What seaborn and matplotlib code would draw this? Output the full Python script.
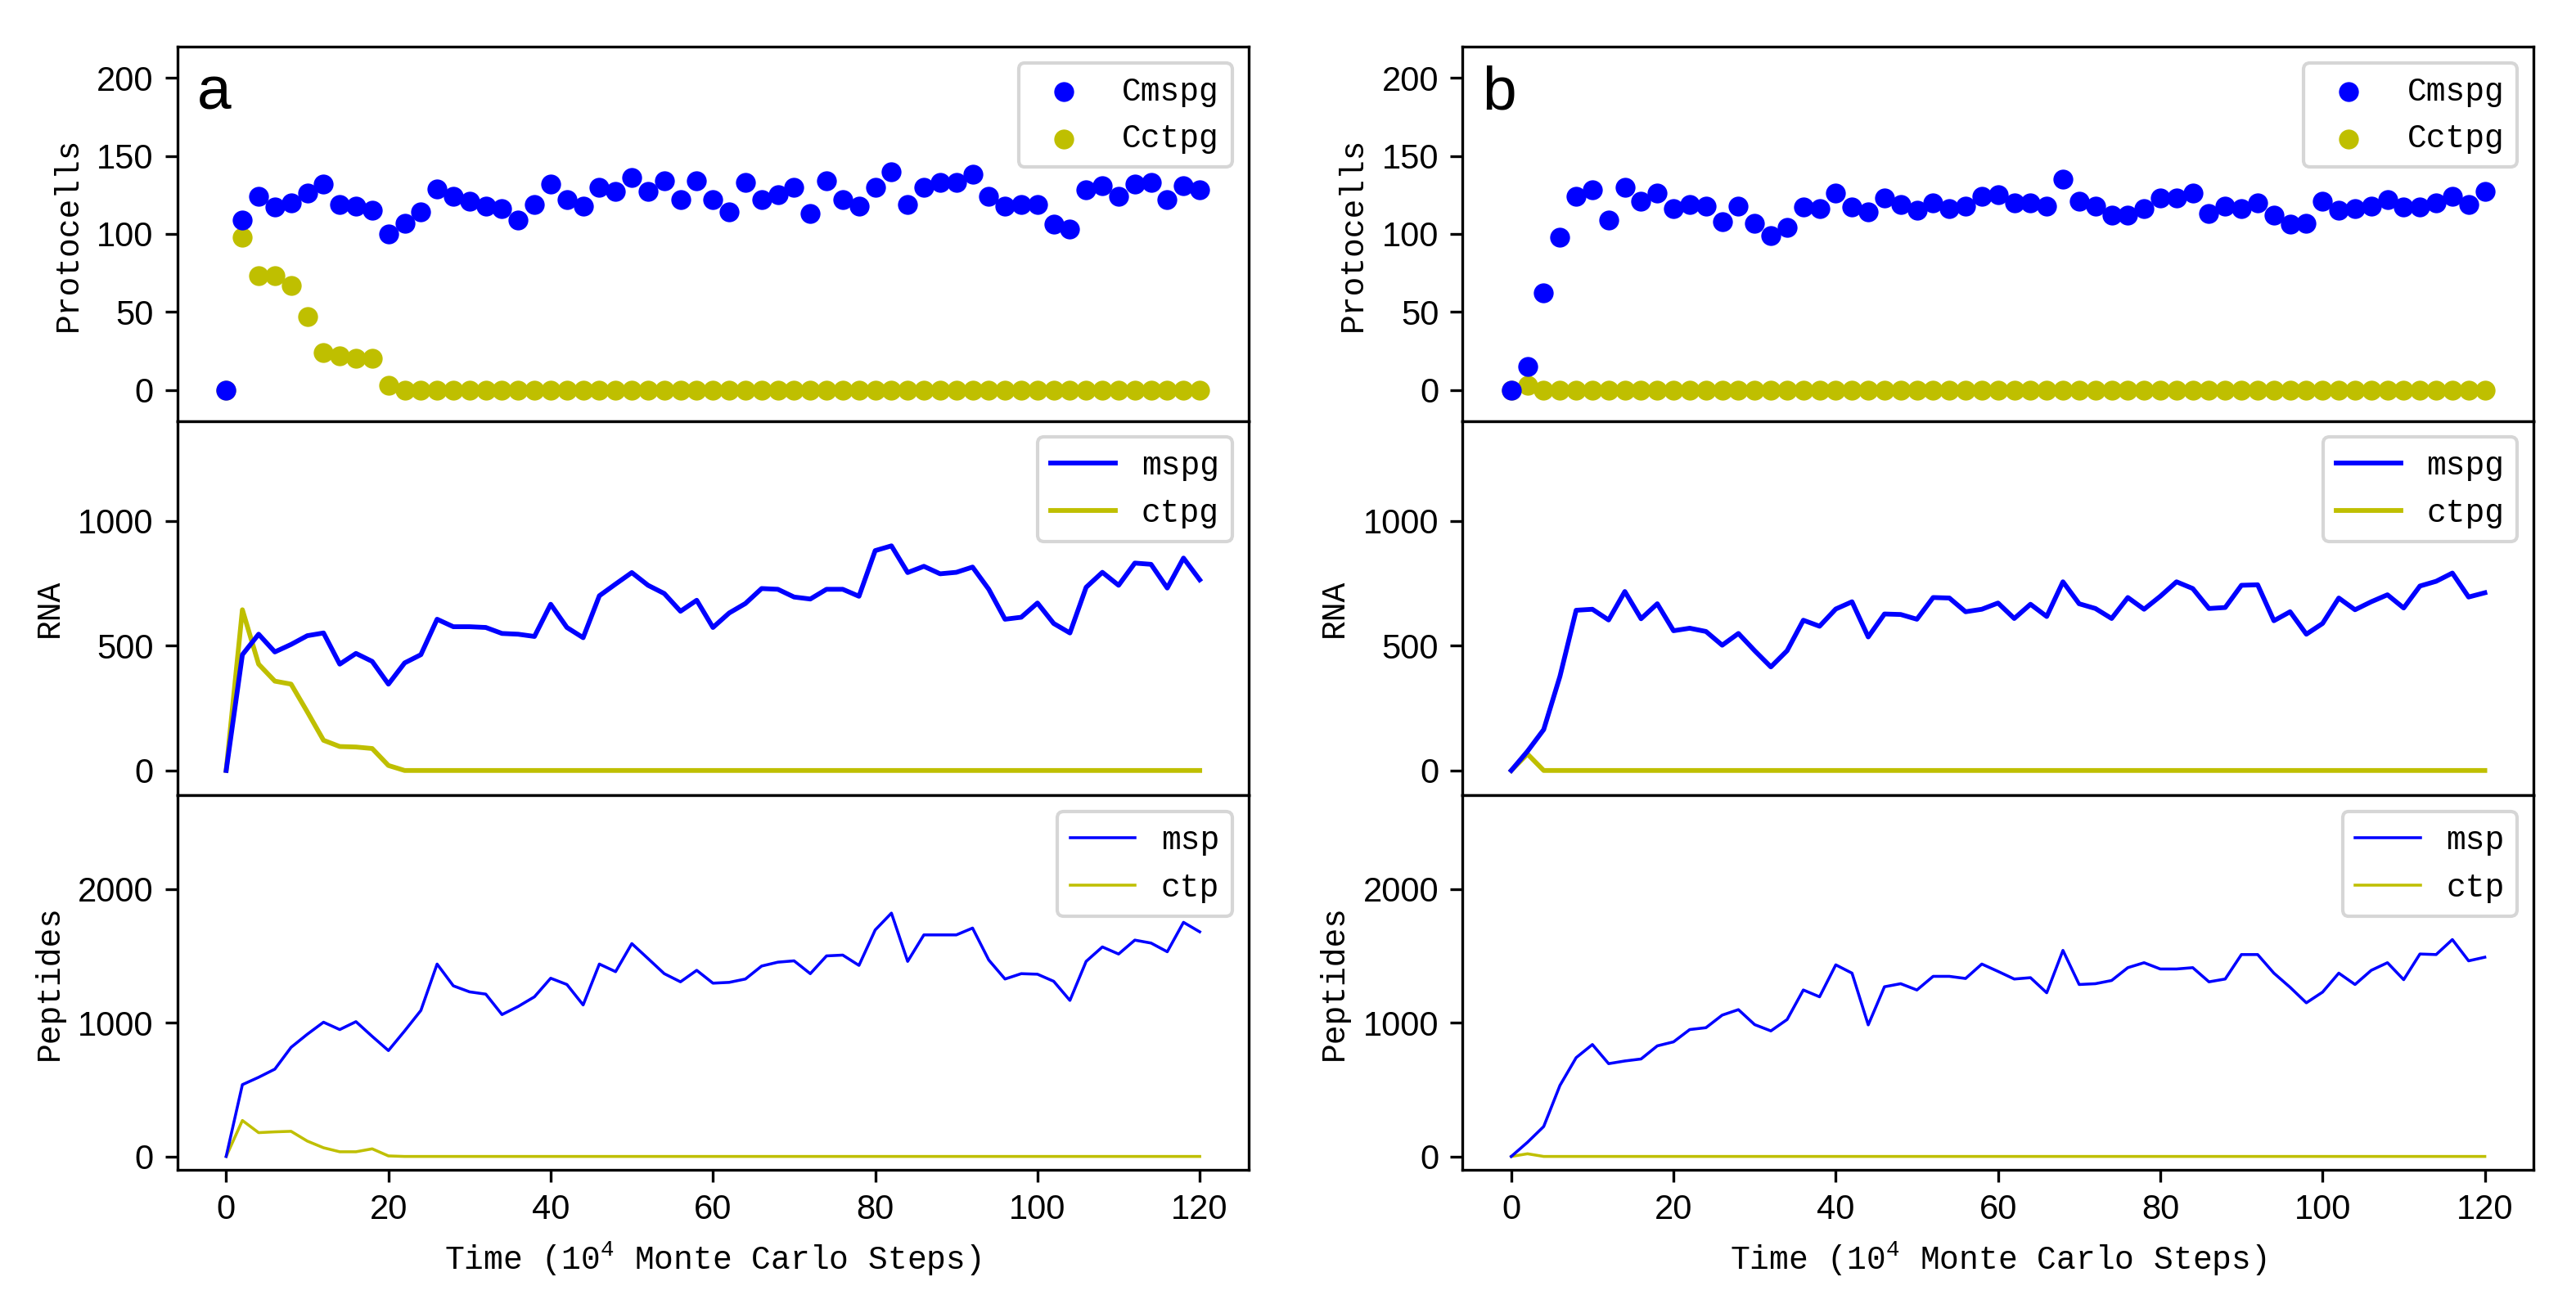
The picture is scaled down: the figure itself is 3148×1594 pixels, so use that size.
import matplotlib
matplotlib.use("Agg")
import matplotlib.pyplot as plt
import seaborn as sns

# time axis, in units of 10^4 Monte Carlo steps
time = [0, 2, 4, 6, 8, 10, 12, 14, 16, 18, 20, 22, 24, 26, 28, 30, 32, 34, 36, 38,
        40, 42, 44, 46, 48, 50, 52, 54, 56, 58, 60, 62, 64, 66, 68, 70, 72, 74, 76, 78,
        80, 82, 84, 86, 88, 90, 92, 94, 96, 98, 100, 102, 104, 106, 108, 110, 112, 114, 116, 118, 120]

# ---- panel a ----
a_Cmspg = [0, 109, 124, 117, 120, 126, 132, 119, 118, 115, 100, 107, 114, 129, 124, 121, 118, 116, 109, 119,
           132, 122, 118, 130, 127, 136, 127, 134, 122, 134, 122, 114, 133, 122, 125, 130, 113, 134, 122, 118,
           130, 140, 119, 130, 133, 133, 138, 124, 118, 119, 119, 106, 103, 128, 131, 124, 132, 133, 122, 131, 128]
a_Cctpg = [0, 98, 73, 73, 67, 47, 24, 22, 20, 20, 3, 0, 0, 0, 0, 0, 0, 0, 0, 0,
           0, 0, 0, 0, 0, 0, 0, 0, 0, 0, 0, 0, 0, 0, 0, 0, 0, 0, 0, 0,
           0, 0, 0, 0, 0, 0, 0, 0, 0, 0, 0, 0, 0, 0, 0, 0, 0, 0, 0, 0, 0]
a_mspg = [0, 464, 546, 475, 505, 540, 551, 426, 469, 437, 346, 431, 464, 606, 576, 576, 573, 549, 546, 537,
          666, 573, 532, 700, 747, 793, 742, 709, 638, 682, 573, 631, 669, 729, 726, 695, 687, 726, 726, 698,
          881, 900, 793, 818, 788, 794, 815, 726, 606, 614, 671, 589, 551, 734, 794, 742, 831, 826, 731, 851, 764]
a_ctpg = [0, 644, 426, 358, 346, 235, 121, 96, 94, 88, 20, 0, 0, 0, 0, 0, 0, 0, 0, 0,
          0, 0, 0, 0, 0, 0, 0, 0, 0, 0, 0, 0, 0, 0, 0, 0, 0, 0, 0, 0,
          0, 0, 0, 0, 0, 0, 0, 0, 0, 0, 0, 0, 0, 0, 0, 0, 0, 0, 0, 0, 0]
a_msp = [0, 537, 592, 653, 816, 914, 1004, 949, 1008, 898, 792, 939, 1092, 1439, 1276, 1231, 1214, 1061, 1122, 1194,
         1333, 1286, 1133, 1439, 1382, 1592, 1480, 1367, 1306, 1392, 1296, 1302, 1327, 1424, 1453, 1463, 1367, 1500, 1506, 1429,
         1694, 1820, 1459, 1657, 1657, 1657, 1708, 1469, 1327, 1367, 1363, 1310, 1167, 1459, 1567, 1514, 1618, 1596, 1531, 1751, 1680]
a_ctp = [0, 269, 178, 184, 188, 115, 65, 35, 35, 57, 4, 0, 0, 0, 0, 0, 0, 0, 0, 0,
         0, 0, 0, 0, 0, 0, 0, 0, 0, 0, 0, 0, 0, 0, 0, 0, 0, 0, 0, 0,
         0, 0, 0, 0, 0, 0, 0, 0, 0, 0, 0, 0, 0, 0, 0, 0, 0, 0, 0, 0, 0]

# ---- panel b ----
b_Cmspg = [0, 15, 62, 98, 124, 128, 109, 130, 121, 126, 116, 119, 118, 108, 118, 107, 99, 104, 117, 116,
           126, 117, 114, 123, 119, 115, 120, 116, 118, 124, 125, 120, 120, 118, 135, 121, 118, 112, 112, 116,
           123, 123, 126, 113, 118, 116, 120, 112, 106, 107, 121, 115, 116, 118, 122, 117, 117, 120, 124, 119, 127]
b_Cctpg = [0, 3, 0, 0, 0, 0, 0, 0, 0, 0, 0, 0, 0, 0, 0, 0, 0, 0, 0, 0,
           0, 0, 0, 0, 0, 0, 0, 0, 0, 0, 0, 0, 0, 0, 0, 0, 0, 0, 0, 0,
           0, 0, 0, 0, 0, 0, 0, 0, 0, 0, 0, 0, 0, 0, 0, 0, 0, 0, 0, 0, 0]
b_mspg = [0, 77, 164, 377, 642, 646, 603, 717, 608, 668, 560, 570, 557, 502, 549, 480, 415, 480, 602, 578,
          647, 676, 535, 627, 625, 606, 693, 691, 636, 646, 671, 609, 666, 617, 756, 668, 649, 609, 693, 646,
          698, 756, 729, 649, 653, 742, 744, 600, 636, 546, 589, 691, 644, 676, 704, 651, 739, 758, 791, 695, 712]
b_ctpg = [0, 66, 0, 0, 0, 0, 0, 0, 0, 0, 0, 0, 0, 0, 0, 0, 0, 0, 0, 0,
          0, 0, 0, 0, 0, 0, 0, 0, 0, 0, 0, 0, 0, 0, 0, 0, 0, 0, 0, 0,
          0, 0, 0, 0, 0, 0, 0, 0, 0, 0, 0, 0, 0, 0, 0, 0, 0, 0, 0, 0, 0]
b_msp = [0, 106, 224, 531, 739, 837, 694, 714, 729, 827, 857, 949, 963, 1057, 1098, 986, 939, 1024, 1245, 1194,
         1433, 1371, 984, 1269, 1292, 1245, 1347, 1347, 1331, 1439, 1384, 1327, 1337, 1224, 1541, 1286, 1292, 1316, 1412, 1449,
         1402, 1402, 1412, 1306, 1327, 1510, 1510, 1371, 1265, 1149, 1229, 1371, 1286, 1392, 1449, 1322, 1514, 1510, 1622, 1463, 1490]
b_ctp = [0, 20, 0, 0, 0, 0, 0, 0, 0, 0, 0, 0, 0, 0, 0, 0, 0, 0, 0, 0,
         0, 0, 0, 0, 0, 0, 0, 0, 0, 0, 0, 0, 0, 0, 0, 0, 0, 0, 0, 0,
         0, 0, 0, 0, 0, 0, 0, 0, 0, 0, 0, 0, 0, 0, 0, 0, 0, 0, 0, 0, 0]

panels = [
    ("a", a_Cmspg, a_Cctpg, a_mspg, a_ctpg, a_msp, a_ctp),
    ("b", b_Cmspg, b_Cctpg, b_mspg, b_ctpg, b_msp, b_ctp),
]

plt.rcParams['font.family'] = 'Liberation Sans'
plt.rcParams['font.size'] = 10
plt.rcParams['mathtext.fontset'] = 'custom'
plt.rcParams['mathtext.rm'] = 'Liberation Mono'
plt.rcParams['mathtext.it'] = 'Liberation Mono'

mono = {'family': 'Liberation Mono', 'size': 9.5}

fig = plt.figure(figsize=(3148 / 300, 1594 / 300), dpi=300)
gs = fig.add_gridspec(3, 2, left=0.0689, right=0.9835, bottom=0.1029, top=0.9642,
                      wspace=0.2, hspace=0)

for col, (letter, Cm, Cc, m_rna, c_rna, m_pep, c_pep) in enumerate(panels):
    ax1 = fig.add_subplot(gs[0, col])
    ax2 = fig.add_subplot(gs[1, col], sharex=ax1)
    ax3 = fig.add_subplot(gs[2, col], sharex=ax1)

    # protocells
    sns.scatterplot(x=time, y=Cm, color='b', s=34, linewidth=0, label='Cmspg', zorder=3, ax=ax1)
    sns.scatterplot(x=time, y=Cc, color='y', s=34, linewidth=0, label='Cctpg', zorder=2, ax=ax1)
    ax1.set_ylim(-20, 220)
    ax1.set_yticks([0, 50, 100, 150, 200])
    ax1.set_ylabel('Protocells', fontdict=mono)
    ax1.legend(loc='upper right', prop=mono)
    ax1.text(0.018, 0.834, letter, transform=ax1.transAxes, fontsize=18,
             family='Liberation Sans', va='baseline')

    # RNA
    sns.lineplot(x=time, y=m_rna, color='b', linewidth=1.4, label='mspg', zorder=3, ax=ax2)
    sns.lineplot(x=time, y=c_rna, color='y', linewidth=1.4, label='ctpg', zorder=2, ax=ax2)
    ax2.set_ylim(-100, 1400)
    ax2.set_yticks([0, 500, 1000])
    ax2.set_ylabel('RNA', fontdict=mono)
    ax2.legend(loc='upper right', prop=mono)

    # peptides
    sns.lineplot(x=time, y=m_pep, color='b', linewidth=0.85, label='msp', zorder=3, ax=ax3)
    sns.lineplot(x=time, y=c_pep, color='y', linewidth=0.85, label='ctp', zorder=2, ax=ax3)
    ax3.set_ylim(-100, 2700)
    ax3.set_yticks([0, 1000, 2000])
    ax3.set_ylabel('Peptides', fontdict=mono)
    ax3.legend(loc='upper right', prop=mono)
    ax3.set_xticks([0, 20, 40, 60, 80, 100, 120])
    ax3.set_xlabel('Time (10$^4$ Monte Carlo Steps)', fontdict=mono)

    for ax in (ax1, ax2):
        ax.tick_params(axis='x', bottom=False, labelbottom=False)

fig.savefig('out.png', dpi=300)
plt.close()
